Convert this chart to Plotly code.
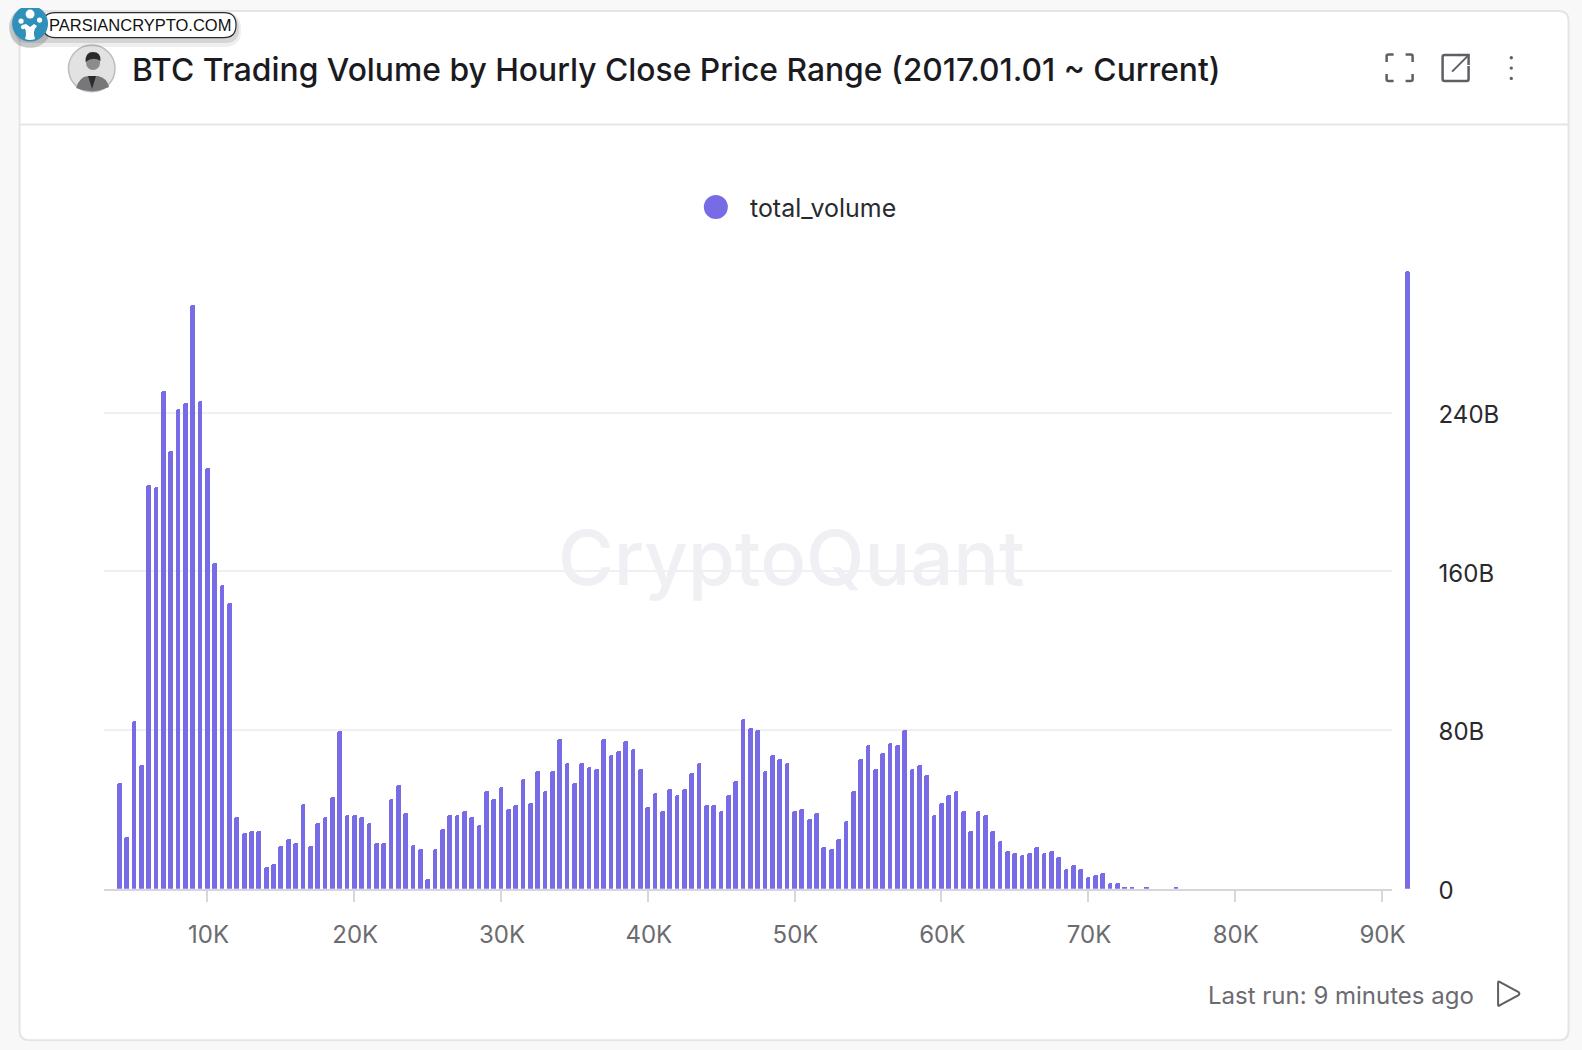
import plotly.graph_objects as go

FIG_W, FIG_H = 1582, 1050
PAD = 8  # default page margin around the plot div
KX, KY = 1.0086, 1.0150  # measured against the reference picture
FONT = "Inter"
BAR = "#776ce6"

# close price bins, USD
price_bins = [
    4000, 4500, 5000, 5500, 6000, 6500, 7000, 7500, 8000, 8500, 9000, 9500,
    10000, 10500, 11000, 11500, 12000, 12500, 13000, 13500, 14000, 14500, 15000, 15500, 16000, 16500, 17000, 17500, 18000, 18500, 19000, 19500,
    20000, 20500, 21000, 21500, 22000, 22500, 23000, 23500, 24000, 24500, 25000, 25500, 26000, 26500, 27000, 27500, 28000, 28500, 29000, 29500,
    30000, 30500, 31000, 31500, 32000, 32500, 33000, 33500, 34000, 34500, 35000, 35500, 36000, 36500, 37000, 37500, 38000, 38500, 39000, 39500,
    40000, 40500, 41000, 41500, 42000, 42500, 43000, 43500, 44000, 44500, 45000, 45500, 46000, 46500, 47000, 47500, 48000, 48500, 49000, 49500,
    50000, 50500, 51000, 51500, 52000, 52500, 53000, 53500, 54000, 54500, 55000, 55500, 56000, 56500, 57000, 57500, 58000, 58500, 59000, 59500,
    60000, 60500, 61000, 61500, 62000, 62500, 63000, 63500, 64000, 64500, 65000, 65500, 66000, 66500, 67000, 67500, 68000, 68500, 69000, 69500,
    70000, 70500, 71000, 71500, 72000, 72500, 73000, 74000, 76000,
]
# total volume, billions
total_volume = [
    53.4, 26.3, 84.7, 62.6, 203.7, 202.7, 251, 220.8, 242, 245, 294.6, 246,
    212, 164.4, 153.3, 144.3, 36.3, 28.3, 29.3, 29.3, 11, 12.4, 21.3, 25.3, 23.3, 42.5, 21.3, 33.3, 36.3, 46.2, 79.7, 37.3,
    37.3, 36.3, 33.2, 23.1, 23.1, 45.4, 52.4, 38.3, 22.1, 20, 4.9, 20, 30.2, 37.3, 37.3, 39.3, 36.3, 32.2, 49.4, 45.4,
    51.4, 40.3, 42.3, 55.5, 43.3, 59.5, 49.4, 59.5, 75.7, 63.6, 53.5, 63.6, 61.6, 60.5, 75.7, 67.6, 69.6, 74.7, 70.7, 60.5,
    41.3, 48.4, 39.3, 50.4, 47.4, 50.4, 58.5, 63.6, 42.3, 42.3, 39.3, 47.4, 54.5, 85.8, 80.8, 79.8, 59.5, 67.6, 65.6, 63.6,
    39.3, 40.3, 35.2, 38.3, 21.1, 20.1, 25.1, 34.2, 49.4, 65.6, 72.7, 60.5, 68.6, 73.7, 72.7, 79.8, 60.5, 62.6, 57.5, 37.3,
    43.3, 47.4, 49.4, 39.3, 29.2, 39.3, 37.3, 29.2, 24.1, 19, 18, 17, 18, 21.1, 18, 19, 16, 9.9, 12, 9.9,
    5.9, 6.9, 7.9, 2.9, 2.9, 0.8, 0.8, 0.8, 0.8,
]
# the last bar sits past the end of the axis
last_price = [91750]
last_volume = [311.5]

x_ticks = [10000, 20000, 30000, 40000, 50000, 60000, 70000, 80000, 90000]
x_labels = ["10K", "20K", "30K", "40K", "50K", "60K", "70K", "80K", "90K"]
y_ticks = [0, 80, 160, 240]
y_labels = ["0", "80B", "160B", "240B"]


def fx(px):
    return (px * KX - PAD) / FIG_W


def fy(py):
    return 1 - (py * KY - PAD) / FIG_H


def path(*parts):
    # parts are pixel coords or svg letters, returns paper coord path
    out = []
    i = 0
    while i < len(parts):
        p = parts[i]
        if isinstance(p, str):
            out.append(p)
            i += 1
        else:
            out.append(f"{fx(p):.5f},{fy(parts[i + 1]):.5f}")
            i += 2
    return " ".join(out)


def rrect(x0, y0, x1, y1, r):
    return path("M", x0 + r, y0, "L", x1 - r, y0, "Q", x1, y0, x1, y0 + r, "L", x1, y1 - r,
                "Q", x1, y1, x1 - r, y1, "L", x0 + r, y1, "Q", x0, y1, x0, y1 - r, "L", x0, y0 + r,
                "Q", x0, y0, x0 + r, y0, "Z")


def draw(d, color=None, width=2.5, fill=None):
    return dict(type="path", xref="paper", yref="paper", path=d, layer="below",
                line=dict(color=color or "rgba(0,0,0,0)", width=width),
                fillcolor=fill or "rgba(0,0,0,0)")


def circle(cx, cy, r, fill, color=None, width=0, layer="below"):
    return dict(type="circle", xref="paper", yref="paper", layer=layer,
                x0=fx(cx - r), x1=fx(cx + r), y0=fy(cy + r), y1=fy(cy - r),
                fillcolor=fill, line=dict(color=color or "rgba(0,0,0,0)", width=width))


def text(x, y, s, size, color, anchor="left", family=FONT, weight=400):
    return dict(xref="paper", yref="paper", x=fx(x), y=fy(y), text=s, showarrow=False,
                xanchor=anchor, yanchor="middle", font=dict(family=family, size=size, color=color, weight=weight))


ICON = "#5f5f66"
shapes = [
    # card
    draw(rrect(19.5, 11, 1569, 1040.5, 10), "#e5e5e8", 2, "#ffffff"),
    draw(path("M", 20, 124.5, "L", 1568.5, 124.5), "#e5e5e8", 2),
    # legend dot
    circle(716, 207, 12, BAR),
    # fullscreen
    draw(path("M", 1387, 62, "L", 1387, 56, "Q", 1387, 54.5, 1389, 54.5, "L", 1394, 54.5), ICON),
    draw(path("M", 1406, 54.5, "L", 1411, 54.5, "Q", 1413, 54.5, 1413, 56, "L", 1413, 62), ICON),
    draw(path("M", 1387, 74, "L", 1387, 79.5, "Q", 1387, 81, 1389, 81, "L", 1394, 81), ICON),
    draw(path("M", 1406, 81, "L", 1411, 81, "Q", 1413, 81, 1413, 79.5, "L", 1413, 74), ICON),
    # open in new
    draw(path("M", 1460, 55, "L", 1445, 55, "Q", 1443, 55, 1443, 57, "L", 1443, 79, "Q", 1443, 81, 1445, 81,
              "L", 1467, 81, "Q", 1469, 81, 1469, 79, "L", 1469, 66), ICON),
    draw(path("M", 1452.5, 71.5, "L", 1469, 55), ICON, 2),
    draw(path("M", 1459, 55, "L", 1469, 55, "L", 1469, 65), ICON),
    # more dots
    circle(1511.7, 57.7, 1.7, ICON),
    circle(1511.7, 68, 1.7, ICON),
    circle(1511.7, 78.3, 1.7, ICON),
    # run
    draw(path("M", 1498.5, 983, "Q", 1498.5, 981, 1500.5, 982.5, "L", 1519, 992.5, "Q", 1520.5, 994, 1519, 995.5,
              "L", 1500.5, 1005.5, "Q", 1498.5, 1007, 1498.5, 1005, "Z"), ICON, 2),
    # avatar
    circle(91.7, 68.3, 23.3, "#e2e2e2", "#bdbdbd", 1.5),
    draw(path("M", 76, 88, "Q", 79, 77, 88, 76, "L", 98, 76, "Q", 107, 78, 109, 87, "Q", 92, 95, 76, 88, "Z"), None, 0, "#77777a"),
    draw(path("M", 88, 76, "L", 92, 89, "L", 96, 76, "Z"), None, 0, "#2b2b2b"),
    circle(93, 63, 7, "#8c8c8c"),
    draw(path("M", 85.5, 62, "Q", 85, 52, 93, 52, "Q", 101, 52, 100.5, 61, "Q", 93, 56, 85.5, 62, "Z"), None, 0, "#2a2a2a"),
    # badge shadow
    draw(rrect(10, 12, 241, 47, 17), None, 0, "rgba(90,90,90,0.10)"),
    draw(rrect(14, 14, 239, 43, 14), None, 0, "rgba(90,90,90,0.16)"),
    circle(30, 27, 21, "rgba(70,70,70,0.22)"),
    # badge
    draw(rrect(43, 12.5, 236, 37.5, 12), "#2b2b2b", 1.2, "#ffffff"),
    circle(30, 23.5, 18, "#2f90b9"),
    draw(path("M", 25, 39, "Q", 28, 30, 22, 25, "L", 26, 24, "L", 30, 27, "L", 34, 24, "L", 37, 26,
              "Q", 32, 31, 35, 39, "Q", 30, 41, 25, 39, "Z"), None, 0, "#ffffff"),
    circle(30, 14, 4.5, "#ffffff"),
    circle(21, 21, 2.6, "#ffffff"),
    circle(23, 27, 2.2, "#ffffff"),
    circle(39.5, 20, 2.6, "#ffffff"),
]

annotations = [
    text(130, 69, "BTC Trading Volume by Hourly Close Price Range (2017.01.01 ~ Current)", 31.8, "#1b1b1f", weight=500),
    text(748, 208, "total_volume", 24.95, "#2a2a2e"),
    text(792, 557, "CryptoQuant", 76, "#f0f0f4", anchor="center", weight=500),
    text(1206, 996, "Last run: 9 minutes ago", 24, "#6b6b70"),
    text(140, 25, "PARSIANCRYPTO.COM", 16.5, "#111111", anchor="center", family="Liberation Sans"),
]

# same px per dollar on both x axes, xaxis2 only reaches further
x_start, x_end = 2950, 90687
x2_end = x_start + (x_end - x_start) * (fx(1420) - fx(104)) / (fx(1392) - fx(104))

fig = go.Figure()
fig.add_trace(go.Bar(
    x=price_bins,
    y=total_volume,
    name="total_volume",
    width=320,
    marker=dict(color=BAR, cornerradius=2, line=dict(width=0)),
    showlegend=False,
))
fig.add_trace(go.Bar(
    x=last_price,
    y=last_volume,
    name="total_volume",
    xaxis="x2",
    yaxis="y2",
    width=320,
    marker=dict(color=BAR, cornerradius=2, line=dict(width=0)),
    showlegend=False,
))

fig.update_layout(
    width=FIG_W,
    height=FIG_H,
    margin=dict(l=0, r=0, t=0, b=0),
    paper_bgcolor="#f8f8f9",
    plot_bgcolor="rgba(0,0,0,0)",
    font=dict(family=FONT, size=24, color="#6b6b70"),
    shapes=shapes,
    annotations=annotations,
    bargap=0,
    xaxis=dict(
        domain=[fx(104), fx(1392)],
        range=[x_start, x_end],
        tickmode="array",
        tickvals=x_ticks,
        ticktext=x_labels,
        showgrid=False,
        zeroline=False,
        showline=True,
        linecolor="#d6d6dc",
        linewidth=2,
        ticks="outside",
        ticklen=11,
        tickwidth=2,
        tickcolor="#d6d6dc",
        ticklabelstandoff=12,
        ticklabelshift=1,
        tickfont=dict(size=24, color="#6b6b70"),
    ),
    yaxis=dict(
        domain=[fy(889), fy(271)],
        range=[0, 311.5],
        side="right",
        tickmode="array",
        tickvals=y_ticks,
        ticktext=y_labels,
        showgrid=True,
        gridcolor="#f0f0f2",
        gridwidth=2,
        zeroline=False,
        showline=False,
        ticks="",
        ticklabelstandoff=46,
        ticklabelshift=2,
        tickfont=dict(size=24, color="#2a2a2e"),
    ),
    xaxis2=dict(domain=[fx(104), fx(1420)], range=[x_start, x2_end], visible=False, anchor="y2"),
    yaxis2=dict(domain=[fy(889), fy(271)], range=[0, 311.5], visible=False, anchor="x2"),
)

fig.write_html("out.html", config={"displayModeBar": False},
               post_script="document.body.style.background='#f8f8f9';")
